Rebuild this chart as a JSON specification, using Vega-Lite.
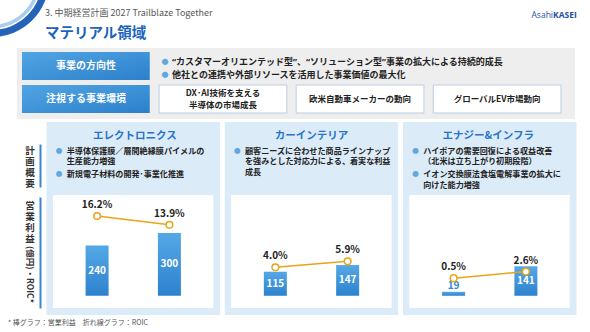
{
"$schema": "https://vega.github.io/schema/vega-lite/v6.json",
"width": 590,
"height": 332,
"autosize": {"type": "none"},
"padding": 0,
"background": "white",
"config": {
  "view": {"stroke": null},
  "font": "Noto Sans CJK JP",
  "text": {"font": "Noto Sans CJK JP"},
  "axis": {"labelFont": "Noto Sans CJK JP", "titleFont": "Noto Sans CJK JP"},
  "title": {"font": "Noto Sans CJK JP", "subtitleFont": "Noto Sans CJK JP"}
},
"title": {"text": "3. 中期経営計画 2027  Trailblaze Together", "subtitle": "マテリアル領域", "anchor": "start", "frame": "group", "orient": "top", "offset": -40, "dx": 45, "fontSize": 9, "fontWeight": "normal", "color": "#595959", "subtitleFontSize": 14.5, "subtitleFontWeight": "bold", "subtitleColor": "#1a64c0", "subtitlePadding": 9},
"datasets": {
  "metrics": [
    {"seg": "エレクトロニクス", "fy": "FY24 見通し", "op": 240, "roic": 0.162},
    {"seg": "エレクトロニクス", "fy": "FY27 計画", "op": 300, "roic": 0.139},
    {"seg": "カーインテリア", "fy": "FY24 見通し", "op": 115, "roic": 0.040},
    {"seg": "カーインテリア", "fy": "FY27 計画", "op": 147, "roic": 0.059},
    {"seg": "エナジー&インフラ", "fy": "FY24 見通し", "op": 19, "roic": 0.005},
    {"seg": "エナジー&インフラ", "fy": "FY27 計画", "op": 141, "roic": 0.026}
  ],
  "notes": [
    {"seg": "エレクトロニクス", "slot": "title", "text": "エレクトロニクス"},
    {"seg": "エレクトロニクス", "slot": "b1", "text": ["半導体保護膜／層間絶縁膜パイメルの", "生産能力増強"]},
    {"seg": "エレクトロニクス", "slot": "b2", "text": ["新規電子材料の開発･事業化推進"]},
    {"seg": "カーインテリア", "slot": "title", "text": "カーインテリア"},
    {"seg": "カーインテリア", "slot": "b1", "text": ["顧客ニーズに合わせた商品ラインナップ", "を強みとした対応力による、着実な利益", "成長"]},
    {"seg": "エナジー&インフラ", "slot": "title", "text": "エナジー&インフラ"},
    {"seg": "エナジー&インフラ", "slot": "b1", "text": ["ハイポアの需要回復による収益改善", "（北米は立ち上がり初期段階）"]},
    {"seg": "エナジー&インフラ", "slot": "b2", "text": ["イオン交換膜法食塩電解事業の拡大に", "向けた能力増強"]}
  ],
  "env": [
    {"row": "r1", "col": "c0", "kind": "label", "text": "事業の方向性"},
    {"row": "r2", "col": "c0", "kind": "label", "text": "注視する事業環境"},
    {"row": "r1", "col": "c1", "kind": "policy", "text": ["“カスタマーオリエンテッド型”、“ソリューション型”事業の拡大による持続的成長", "他社との連携や外部リソースを活用した事業価値の最大化"]},
    {"row": "r2", "col": "c1", "kind": "env", "text": ["DX･AI技術を支える", "半導体の市場成長"]},
    {"row": "r2", "col": "c2", "kind": "env", "text": "欧米自動車メーカーの動向"},
    {"row": "r2", "col": "c3", "kind": "env", "text": "グローバルEV市場動向"}
  ],
  "brand": [
    {"brand": "logo", "part": "Asahi"},
    {"brand": "logo", "part": "KASEI"}
  ],
  "footnote": [
    {"note": "* 棒グラフ：営業利益　折れ線グラフ：ROIC"}
  ],
  "band": [
    {"area": "focus"}
  ],
  "guides": [
    {"v": 0}
  ],
  "deco": [
    {"motif": "ring"}
  ]
},
"layer": [
  {
    "data": {"name": "deco"},
    "encoding": {
      "x": {"field": "motif", "type": "nominal", "scale": {"type": "point", "range": [-12, -4]}, "axis": null},
      "y": {"field": "motif", "type": "nominal", "scale": {"type": "point", "range": [-24, -16]}, "axis": null}
    },
    "layer": [
      {"mark": {"type": "arc", "clip": true, "radius": 57, "radius2": 50, "theta": 0, "theta2": 6.2832, "color": "#2463b8"}},
      {"mark": {"type": "arc", "clip": true, "radius": 48.5, "radius2": 45, "theta": 0, "theta2": 6.2832, "color": "#a9cdef"}}
    ]
  },
  {
    "data": {"name": "band"},
    "mark": {"type": "rect", "color": "#eeeeee"},
    "encoding": {
      "x": {"field": "area", "type": "nominal", "scale": {"range": [17, 575], "paddingInner": 0, "paddingOuter": 0}, "axis": null},
      "y": {"field": "area", "type": "nominal", "scale": {"range": [48, 119], "paddingInner": 0, "paddingOuter": 0}, "axis": null}
    }
  },
  {
    "data": {"name": "env"},
    "encoding": {
      "x": {"field": "col", "type": "nominal", "scale": {"domain": ["c0", "c1", "c2", "c3"], "range": [22, 561], "paddingInner": 0.068, "paddingOuter": 0}, "axis": null},
      "y": {"field": "row", "type": "nominal", "scale": {"domain": ["r1", "r2"], "range": [52, 113], "paddingInner": 0.15, "paddingOuter": 0}, "axis": null}
    },
    "layer": [
      {"transform": [{"filter": "datum.kind === 'label'"}], "mark": {"type": "rect", "color": {"gradient": "linear", "x1": 0, "y1": 0, "x2": 1, "y2": 1, "stops": [{"offset": 0, "color": "#52a5e3"}, {"offset": 1, "color": "#2b80cb"}]}}},
      {"transform": [{"filter": "datum.kind === 'env'"}], "mark": {"type": "rect", "fill": "#ffffff", "stroke": "#b9cde3", "strokeWidth": 1}},
      {"transform": [{"filter": "datum.kind === 'label'"}], "mark": {"type": "text", "color": "#ffffff", "fontSize": 10, "fontWeight": "bold", "baseline": "middle"}, "encoding": {"text": {"field": "text"}}},
      {"transform": [{"filter": "datum.kind === 'env' && !isArray(datum.text)"}], "mark": {"type": "text", "color": "#222222", "fontSize": 8.5, "fontWeight": "bold", "baseline": "middle"}, "encoding": {"text": {"field": "text"}}},
      {"transform": [{"filter": "datum.kind === 'env' && isArray(datum.text)"}], "mark": {"type": "text", "color": "#222222", "fontSize": 8.5, "fontWeight": "bold", "baseline": "middle", "lineHeight": 11.5, "dy": -5.75}, "encoding": {"text": {"field": "text"}}},
      {"transform": [{"filter": "datum.kind === 'policy'"}], "mark": {"type": "text", "text": ["●", "●"], "color": "#5fa8e0", "fontSize": 7, "align": "center", "baseline": "alphabetic", "lineHeight": 13, "dx": 6, "dy": -2.5}, "encoding": {"x": {"field": "col", "type": "nominal", "bandPosition": 0}}},
      {"transform": [{"filter": "datum.kind === 'policy'"}], "mark": {"type": "text", "color": "#222222", "font": "Noto Sans, Noto Sans CJK JP", "fontSize": 9, "fontWeight": "bold", "align": "left", "baseline": "alphabetic", "lineHeight": 13, "dx": 13, "dy": -1.5}, "encoding": {"x": {"field": "col", "type": "nominal", "bandPosition": 0}, "text": {"field": "text"}}}
    ]
  },
  {
    "data": {"name": "notes"},
    "transform": [{"filter": "datum.slot === 'title'"}],
    "mark": {"type": "rect", "color": "#dcebf8"},
    "encoding": {
      "x": {"field": "seg", "type": "nominal", "sort": ["エレクトロニクス", "カーインテリア", "エナジー&インフラ"], "scale": {"range": [46.5, 576.5], "paddingInner": 0.02665, "paddingOuter": 0}, "axis": null},
      "y": {"field": "slot", "type": "nominal", "scale": {"domain": ["title"], "range": [122, 315], "paddingInner": 0, "paddingOuter": 0}, "axis": null}
    }
  },
  {
    "data": {"name": "notes"},
    "transform": [{"filter": "datum.slot === 'title'"}],
    "mark": {"type": "rect", "color": "#ffffff"},
    "encoding": {
      "x": {"field": "seg", "type": "nominal", "sort": ["エレクトロニクス", "カーインテリア", "エナジー&インフラ"], "scale": {"range": [53, 569.75], "paddingInner": 0.0996, "paddingOuter": 0}, "axis": null},
      "y": {"field": "slot", "type": "nominal", "scale": {"domain": ["title"], "range": [195, 308], "paddingInner": 0, "paddingOuter": 0}, "axis": null}
    }
  },
  {
    "data": {"name": "notes"},
    "transform": [{"filter": "datum.slot === 'title'"}],
    "mark": {"type": "text", "fontSize": 10.5, "fontWeight": "bold", "color": "#2673c9", "baseline": "middle", "align": "center"},
    "encoding": {
      "x": {"field": "seg", "type": "nominal", "sort": ["エレクトロニクス", "カーインテリア", "エナジー&インフラ"], "scale": {"range": [46.5, 576.5], "paddingInner": 0.02665, "paddingOuter": 0}, "axis": null},
      "y": {"field": "slot", "type": "nominal", "scale": {"domain": ["title"], "range": [129, 142], "paddingInner": 0, "paddingOuter": 0}, "axis": null},
      "text": {"field": "text"}
    }
  },
  {
    "data": {"name": "notes"},
    "transform": [{"filter": "datum.slot !== 'title'"}],
    "encoding": {
      "x": {"field": "seg", "type": "nominal", "sort": ["エレクトロニクス", "カーインテリア", "エナジー&インフラ"], "scale": {"type": "point", "range": [46.5, 403], "padding": 0}, "axis": null},
      "y": {"field": "slot", "type": "nominal", "scale": {"type": "point", "domain": ["b1", "b2"], "range": [153.5, 177.3], "padding": 0}, "axis": null}
    },
    "layer": [
      {"mark": {"type": "text", "text": "●", "fontSize": 6.5, "color": "#5fa8e0", "align": "center", "baseline": "alphabetic", "dx": 12.5, "dy": -1}},
      {"mark": {"type": "text", "fontSize": 8.1, "fontWeight": "bold", "color": "#222222", "align": "left", "baseline": "alphabetic", "dx": 20.25, "lineHeight": 10.5}, "encoding": {"text": {"field": "text"}}}
    ]
  },
  {
    "data": {"name": "metrics"},
    "transform": [{"filter": "datum.seg === 'エレクトロニクス'"}],
    "encoding": {"x": {"field": "fy", "type": "nominal", "sort": ["FY24 見通し", "FY27 計画"], "scale": {"range": [53, 213.5], "paddingInner": 0.5, "paddingOuter": 0.36}, "axis": {"orient": "bottom", "offset": -36.25, "title": null, "domainColor": "#d4d4d4", "domainWidth": 1, "ticks": false, "grid": false, "labelAngle": 0, "labelPadding": 2, "labelFontSize": 7.5, "labelFontWeight": "bold", "labelColor": "#333333"}}},
    "layer": [
      {"mark": {"type": "bar", "width": 23, "color": {"gradient": "linear", "x1": 0, "y1": 0, "x2": 0, "y2": 1, "stops": [{"offset": 0, "color": "#55a8e6"}, {"offset": 1, "color": "#2c82cd"}]}}, "encoding": {"y": {"field": "op", "type": "quantitative", "scale": {"domain": [-173.4, 1415.1], "nice": false}, "axis": null}}},
      {"transform": [{"filter": "datum.op >= 50"}], "mark": {"type": "text", "color": "#ffffff", "fontSize": 10, "fontWeight": "bold", "baseline": "middle"}, "encoding": {"y": {"field": "op", "type": "quantitative", "scale": {"domain": [-346.8, 2830.2], "nice": false}, "axis": null}, "text": {"field": "op", "type": "quantitative"}}},
      {"mark": {"type": "line", "color": "#e8a516", "strokeWidth": 1.5}, "encoding": {"y": {"field": "roic", "type": "quantitative", "scale": {"domain": [-0.14329, 0.73039], "nice": false}, "axis": null}}},
      {"mark": {"type": "point", "filled": true, "fill": "#ffffff", "stroke": "#e8a516", "strokeWidth": 1.5, "size": 45, "opacity": 1}, "encoding": {"y": {"field": "roic", "type": "quantitative", "scale": {"domain": [-0.14329, 0.73039], "nice": false}, "axis": null}}},
      {"mark": {"type": "text", "color": "#222222", "fontSize": 10, "fontWeight": "bold", "baseline": "middle", "dy": -11}, "encoding": {"y": {"field": "roic", "type": "quantitative", "scale": {"domain": [-0.14329, 0.73039], "nice": false}, "axis": null}, "text": {"field": "roic", "type": "quantitative", "format": ".1%"}}}
    ],
    "resolve": {"scale": {"y": "independent"}}
  },
  {
    "data": {"name": "metrics"},
    "transform": [{"filter": "datum.seg === 'カーインテリア'"}],
    "encoding": {"x": {"field": "fy", "type": "nominal", "sort": ["FY24 見通し", "FY27 計画"], "scale": {"range": [231.25, 391.75], "paddingInner": 0.5, "paddingOuter": 0.36}, "axis": {"orient": "bottom", "offset": -36.25, "title": null, "domainColor": "#d4d4d4", "domainWidth": 1, "ticks": false, "grid": false, "labelAngle": 0, "labelPadding": 2, "labelFontSize": 7.5, "labelFontWeight": "bold", "labelColor": "#333333"}}},
    "layer": [
      {"mark": {"type": "bar", "width": 23, "color": {"gradient": "linear", "x1": 0, "y1": 0, "x2": 0, "y2": 1, "stops": [{"offset": 0, "color": "#55a8e6"}, {"offset": 1, "color": "#2c82cd"}]}}, "encoding": {"y": {"field": "op", "type": "quantitative", "scale": {"domain": [-173.4, 1415.1], "nice": false}, "axis": null}}},
      {"transform": [{"filter": "datum.op >= 50"}], "mark": {"type": "text", "color": "#ffffff", "fontSize": 10, "fontWeight": "bold", "baseline": "middle"}, "encoding": {"y": {"field": "op", "type": "quantitative", "scale": {"domain": [-346.8, 2830.2], "nice": false}, "axis": null}, "text": {"field": "op", "type": "quantitative"}}},
      {"mark": {"type": "line", "color": "#e8a516", "strokeWidth": 1.5}, "encoding": {"y": {"field": "roic", "type": "quantitative", "scale": {"domain": [-0.16693, 0.89377], "nice": false}, "axis": null}}},
      {"mark": {"type": "point", "filled": true, "fill": "#ffffff", "stroke": "#e8a516", "strokeWidth": 1.5, "size": 45, "opacity": 1}, "encoding": {"y": {"field": "roic", "type": "quantitative", "scale": {"domain": [-0.16693, 0.89377], "nice": false}, "axis": null}}},
      {"mark": {"type": "text", "color": "#222222", "fontSize": 10, "fontWeight": "bold", "baseline": "middle", "dy": -11}, "encoding": {"y": {"field": "roic", "type": "quantitative", "scale": {"domain": [-0.16693, 0.89377], "nice": false}, "axis": null}, "text": {"field": "roic", "type": "quantitative", "format": ".1%"}}}
    ],
    "resolve": {"scale": {"y": "independent"}}
  },
  {
    "data": {"name": "metrics"},
    "transform": [{"filter": "datum.seg === 'エナジー&インフラ'"}],
    "encoding": {"x": {"field": "fy", "type": "nominal", "sort": ["FY24 見通し", "FY27 計画"], "scale": {"range": [409.5, 570], "paddingInner": 0.5, "paddingOuter": 0.36}, "axis": {"orient": "bottom", "offset": -36.25, "title": null, "domainColor": "#d4d4d4", "domainWidth": 1, "ticks": false, "grid": false, "labelAngle": 0, "labelPadding": 2, "labelFontSize": 7.5, "labelFontWeight": "bold", "labelColor": "#333333"}}},
    "layer": [
      {"mark": {"type": "bar", "width": 23, "color": {"gradient": "linear", "x1": 0, "y1": 0, "x2": 0, "y2": 1, "stops": [{"offset": 0, "color": "#55a8e6"}, {"offset": 1, "color": "#2c82cd"}]}}, "encoding": {"y": {"field": "op", "type": "quantitative", "scale": {"domain": [-173.4, 1415.1], "nice": false}, "axis": null}}},
      {"transform": [{"filter": "datum.op >= 50"}], "mark": {"type": "text", "color": "#ffffff", "fontSize": 10, "fontWeight": "bold", "baseline": "middle"}, "encoding": {"y": {"field": "op", "type": "quantitative", "scale": {"domain": [-346.8, 2830.2], "nice": false}, "axis": null}, "text": {"field": "op", "type": "quantitative"}}},
      {"transform": [{"filter": "datum.op < 50"}], "mark": {"type": "text", "color": "#2f86cf", "fontSize": 10, "fontWeight": "bold", "baseline": "bottom", "dy": -0.5}, "encoding": {"y": {"field": "op", "type": "quantitative", "scale": {"domain": [-173.4, 1415.1], "nice": false}, "axis": null}, "text": {"field": "op", "type": "quantitative"}}},
      {"mark": {"type": "line", "color": "#e8a516", "strokeWidth": 1.5}, "encoding": {"y": {"field": "roic", "type": "quantitative", "scale": {"domain": [-0.16693, 0.89377], "nice": false}, "axis": null}}},
      {"mark": {"type": "point", "filled": true, "fill": "#ffffff", "stroke": "#e8a516", "strokeWidth": 1.5, "size": 45, "opacity": 1}, "encoding": {"y": {"field": "roic", "type": "quantitative", "scale": {"domain": [-0.16693, 0.89377], "nice": false}, "axis": null}}},
      {"mark": {"type": "text", "color": "#222222", "fontSize": 10, "fontWeight": "bold", "baseline": "middle", "dy": -11}, "encoding": {"y": {"field": "roic", "type": "quantitative", "scale": {"domain": [-0.16693, 0.89377], "nice": false}, "axis": null}, "text": {"field": "roic", "type": "quantitative", "format": ".1%"}}}
    ],
    "resolve": {"scale": {"y": "independent"}}
  },
  {
    "data": {"name": "guides"},
    "mark": {"type": "point", "opacity": 0},
    "encoding": {"y": {"field": "v", "type": "quantitative", "scale": {"domain": [0, 1], "range": [144, 187]}, "axis": {"orient": "left", "offset": -40, "domainColor": "#3a86d4", "domainWidth": 2, "ticks": false, "labels": false, "grid": false, "title": ["計", "画", "概", "要"], "titleAngle": 0, "titleX": -10.5, "titleY": 150, "titleAlign": "center", "titleBaseline": "middle", "titleFontSize": 9.5, "titleFontWeight": "bold", "titleColor": "#333333", "titleLineHeight": 11}}}
  },
  {
    "data": {"name": "guides"},
    "mark": {"type": "point", "opacity": 0},
    "encoding": {"y": {"field": "v", "type": "quantitative", "scale": {"domain": [0, 1], "range": [197, 308]}, "axis": {"orient": "left", "offset": -40, "domainColor": "#3a86d4", "domainWidth": 2, "ticks": false, "labels": false, "grid": false, "title": ["営", "業", "利", "益"], "titleAngle": 0, "titleX": -10.5, "titleY": 205, "titleAlign": "center", "titleBaseline": "middle", "titleFontSize": 9.5, "titleFontWeight": "bold", "titleColor": "#333333", "titleLineHeight": 11}}}
  },
  {
    "data": {"name": "guides"},
    "mark": {"type": "point", "opacity": 0},
    "encoding": {"y": {"field": "v", "type": "quantitative", "scale": {"domain": [0, 1]}, "axis": {"orient": "left", "offset": -40, "domain": false, "ticks": false, "labels": false, "grid": false, "title": "(億円)・ROIC*", "titleAngle": 90, "titleX": -10.5, "titleY": 274, "titleAlign": "center", "titleBaseline": "middle", "titleFontSize": 8.5, "titleFontWeight": "bold", "titleColor": "#333333"}}}
  },
  {
    "data": {"name": "brand"},
    "encoding": {
      "x": {"field": "brand", "type": "nominal", "scale": {"type": "point", "range": [550, 556]}, "axis": null},
      "y": {"field": "brand", "type": "nominal", "scale": {"type": "point", "range": [8, 22]}, "axis": null}
    },
    "layer": [
      {"transform": [{"filter": "datum.part === 'Asahi'"}], "mark": {"type": "text", "align": "right", "baseline": "middle", "fontSize": 8.5, "fontWeight": "normal", "color": "#1f4fa3", "font": "Open Sans"}, "encoding": {"text": {"field": "part"}}},
      {"transform": [{"filter": "datum.part === 'KASEI'"}], "mark": {"type": "text", "align": "left", "baseline": "middle", "fontSize": 8.5, "fontWeight": "bold", "color": "#1f4fa3", "font": "Open Sans"}, "encoding": {"text": {"field": "part"}}}
    ]
  },
  {
    "data": {"name": "footnote"},
    "mark": {"type": "text", "align": "left", "baseline": "middle", "fontSize": 7, "color": "#555555"},
    "encoding": {
      "x": {"field": "note", "type": "nominal", "scale": {"type": "point", "range": [4, 12]}, "axis": null},
      "y": {"field": "note", "type": "nominal", "scale": {"type": "point", "range": [318, 328]}, "axis": null},
      "text": {"field": "note"}
    }
  }
],
"resolve": {"scale": {"x": "independent", "y": "independent"}, "axis": {"x": "independent", "y": "independent"}}
}
